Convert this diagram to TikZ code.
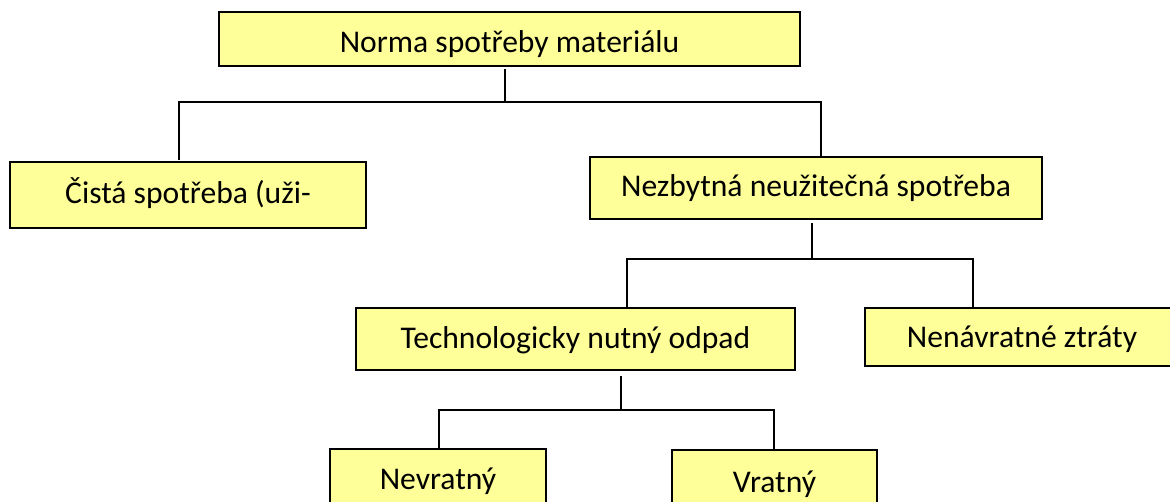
\documentclass[tikz,border=0pt]{standalone}
\usepackage{fontspec}
\setmainfont{Carlito}
\definecolor{boxfill}{HTML}{FFFF99}
\begin{document}
\begin{tikzpicture}[x=0.75pt,y=-0.75pt,
  box/.style={draw=black,line width=1.4pt,fill=boxfill,rectangle,inner sep=0pt,
    text height=17pt,text depth=3.5pt,
    font=\fontsize{23.7}{28}\selectfont,text=black},
  conn/.style={draw=black,line width=0.9pt}]
\useasboundingbox (0,0) rectangle (1170,502);
\clip (0,0) rectangle (1170,502);
% boxes
\node[box,text height=24.5pt,minimum width=581*0.75pt,minimum height=54*0.75pt] (norma) at (509.5,39) {Norma spotřeby materiálu};
\node[box,minimum width=356*0.75pt,minimum height=66*0.75pt] (cista) at (188,195) {Čistá spotřeba (uži-};
\node[box,minimum width=452*0.75pt,minimum height=62*0.75pt] (nezb) at (816,188) {Nezbytná neužitečná spotřeba};
\node[box,minimum width=439*0.75pt,minimum height=62*0.75pt] (tech) at (575.5,339) {Technologicky nutný odpad};
\node[box,text height=19pt,minimum width=314*0.75pt,minimum height=58*0.75pt] (nenav) at (1022,337) {Nenávratné ztráty};
\node[box,minimum width=216*0.75pt,minimum height=62*0.75pt] (nevr) at (438,480) {Nevratný};
\node[box,minimum width=205*0.75pt,minimum height=66*0.75pt] (vrat) at (774.5,483) {Vratný};
% junction points of the tree
\coordinate (a0) at (505,69);  \coordinate (a1) at (505,102);
\coordinate (a2) at (179,102); \coordinate (a3) at (821,102);
\coordinate (a4) at (179,160); \coordinate (a5) at (821,158);
\coordinate (b0) at (812,223); \coordinate (b1) at (812,259);
\coordinate (b2) at (627,259); \coordinate (b3) at (973,259);
\coordinate (b4) at (627,308); \coordinate (b5) at (973,308);
\coordinate (c0) at (621,376); \coordinate (c1) at (621,410);
\coordinate (c2) at (439,410); \coordinate (c3) at (774,410);
\coordinate (c4) at (439,449); \coordinate (c5) at (774,450);
% connectors
\draw[conn] (a0) -- (a1);
\draw[conn] (a4) -- (a2) -- (a3) -- (a5);
\draw[conn] (b0) -- (b1);
\draw[conn] (b4) -- (b2) -- (b3) -- (b5);
\draw[conn] (c0) -- (c1);
\draw[conn] (c4) -- (c2) -- (c3) -- (c5);
\end{tikzpicture}
\end{document}
